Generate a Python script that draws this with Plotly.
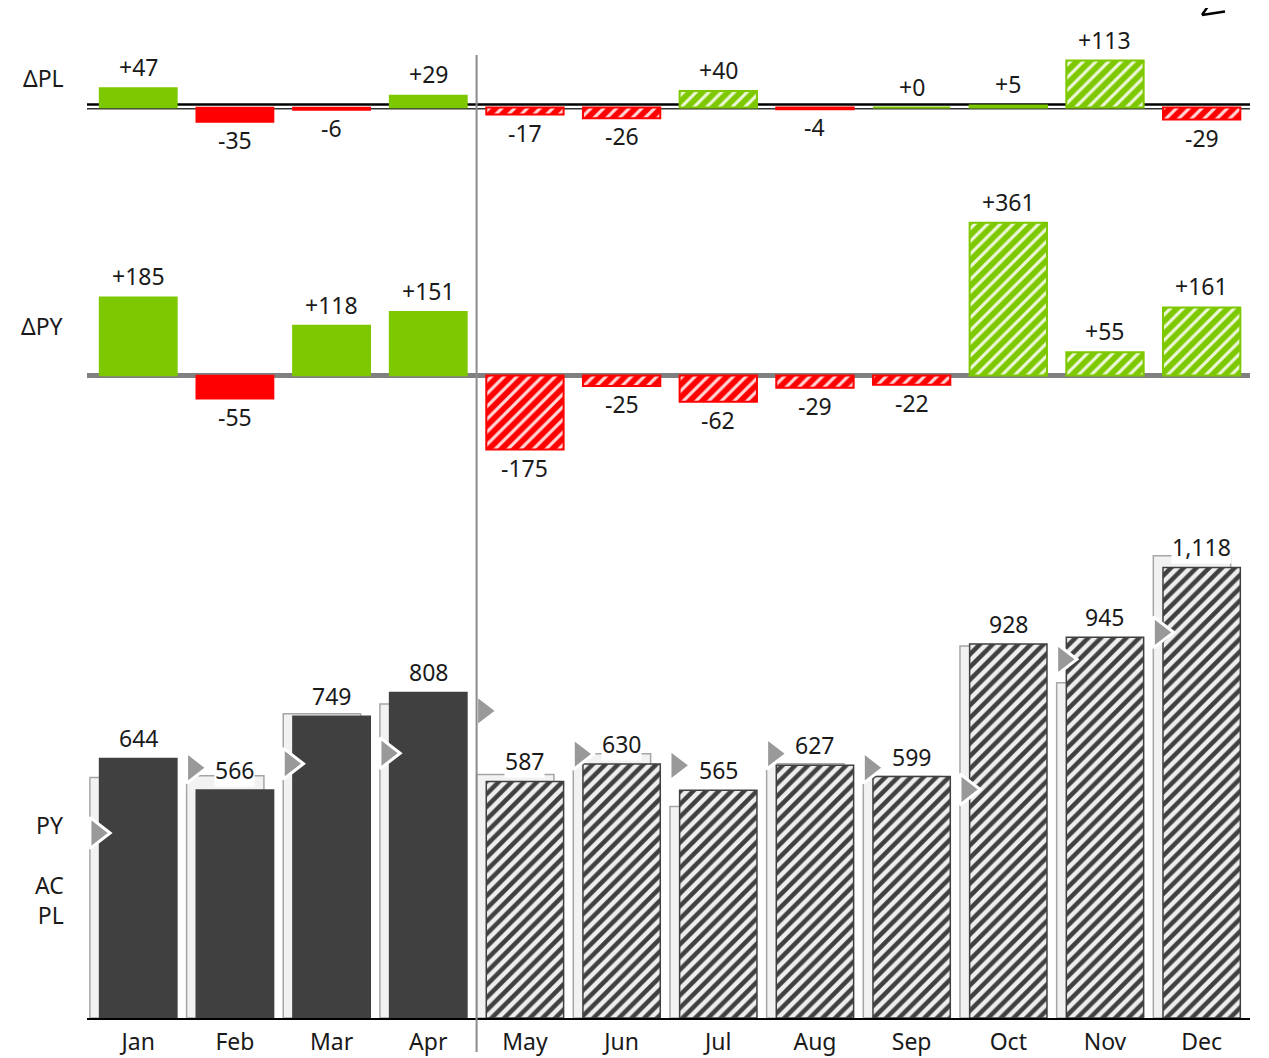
import plotly.graph_objects as go

# 月次データ（Jan-Apr 実績 / May-Dec 見込み）
months = ["Jan", "Feb", "Mar", "Apr", "May", "Jun", "Jul", "Aug", "Sep", "Oct", "Nov", "Dec"]
ac = [644, 566, 749, 808, 587, 630, 565, 627, 599, 928, 945, 1118]
pl = [597, 601, 755, 779, 604, 656, 525, 631, 599, 923, 832, 1147]
py = [459, 621, 631, 657, 762, 655, 627, 656, 621, 567, 890, 957]
d_pl = [47, -35, -6, 29, -17, -26, 40, -4, 0, 5, 113, -29]
d_py = [185, -55, 118, 151, -175, -25, -62, -29, -22, 361, 55, 161]
n_actual = 4

GREEN = "#7DC800"
RED = "#FF0000"
DARK = "#404040"
HATCH_BG = "#EEEEEE"
FONT = "Noto Sans"
TXT = "#1a1a1a"

# ページ本体の余白(8px)を差し引いた図のサイズ
PAGE = 8
W, H = 1269 - PAGE, 1058 - PAGE
M_L, M_R, M_T, M_B = 87 - PAGE, 19, 0, 40
PLOT_H = H - M_T - M_B
PLOT_W = W - M_L - M_R


def py2paper(p):
    # 画面上のピクセル y → paper 座標
    return (PLOT_H + M_T - (p - PAGE)) / PLOT_H


def px2paper(p):
    return (p - PAGE - M_L) / PLOT_W


def panel(zero_px, scale, top_px, bottom_px):
    # ピクセル位置から domain / range を算出
    domain = [py2paper(bottom_px), py2paper(top_px)]
    rng = [-(bottom_px - zero_px) / scale, (zero_px - top_px) / scale]
    return domain, rng


dom1, rng1 = panel(107.5, 0.415, 14, 165)    # ΔPL
dom2, rng2 = panel(375.5, 0.423, 170, 490)   # ΔPY
dom3, rng3 = panel(1018, 0.403, 519, 1018)   # AC / PL / PY

xs = list(range(len(months)))
is_fc = [i >= n_actual for i in xs]

fig = go.Figure()


def bar(vals, mask, yaxis, color, line_color, hatch=None, offset=-0.4, lw=1.5):
    pattern = dict(shape="")
    if hatch:
        pattern = dict(shape="/", fillmode="replace", size=9,
                       bgcolor=color, fgcolor=hatch[0], solidity=hatch[1])
    fig.add_trace(go.Bar(
        x=xs, y=[v if m else None for v, m in zip(vals, mask)],
        width=0.8, offset=offset, yaxis=yaxis,
        marker=dict(color=color, line=dict(color=line_color, width=lw), pattern=pattern),
        hoverinfo="skip",
    ))


def delta_bars(vals, yaxis):
    white = ("rgba(255,255,255,0.85)", 0.35)
    for fc in (False, True):
        for pos in (True, False):
            col = GREEN if pos else RED
            mask = [f == fc and ((v >= 0) == pos) for v, f in zip(vals, is_fc)]
            bar(vals, mask, yaxis, col, col, white if fc else None, lw=2 if fc else 1.5)


delta_bars(d_pl, "y")
delta_bars(d_py, "y2")

# PL（背面の薄いグレー棒）
bar(pl, [True] * len(xs), "y3", "#F2F2F2", "#A6A6A6", offset=-0.5)

# AC（実績は塗りつぶし、見込みはハッチ）
bar(ac, [not f for f in is_fc], "y3", DARK, DARK)
bar(ac, is_fc, "y3", HATCH_BG, DARK, (DARK, 0.5))

# PY（三角マーカー）
fig.add_trace(go.Scatter(
    x=[i - 0.43 for i in xs], y=py, yaxis="y3", mode="markers",
    marker=dict(symbol="triangle-right", size=27, color="#999999",
                line=dict(color="white", width=3)),
    hoverinfo="skip",
))

annotations = []
font = dict(family=FONT, size=23, color=TXT)

for i, v in enumerate(ac):
    annotations.append(dict(
        x=i, y=v, xref="x", yref="y3", text=f"{v:,}", showarrow=False,
        yanchor="middle", yshift=20, font=font, bgcolor="white", borderpad=0,
    ))

for vals, yref in ((d_pl, "y"), (d_py, "y2")):
    for i, v in enumerate(vals):
        annotations.append(dict(
            x=i, y=v, xref="x", yref=yref, text=f"{v:+d}", showarrow=False,
            yanchor="bottom" if v >= 0 else "top",
            yshift=3 if v >= 0 else 0, font=font,
        ))

# 左側の系列ラベル
for text, ypx in (("ΔPL", 78), ("ΔPY", 326), ("PY", 825), ("AC<br>PL", 900)):
    annotations.append(dict(
        x=px2paper(66), y=py2paper(ypx), xref="paper", yref="paper",
        text=text, showarrow=False, xanchor="right", yanchor="middle",
        align="right", font=font,
    ))

shapes = [
    # ΔPL 二重線
    dict(type="line", xref="paper", yref="paper", x0=0, x1=1,
         y0=py2paper(104.5), y1=py2paper(104.5),
         line=dict(color="black", width=2.5), layer="below"),
    dict(type="line", xref="paper", yref="paper", x0=0, x1=1,
         y0=py2paper(108.7), y1=py2paper(108.7),
         line=dict(color="#333333", width=1.5), layer="below"),
    # ΔPY 基準線
    dict(type="line", xref="paper", yref="y2", x0=0, x1=1, y0=0, y1=0,
         line=dict(color="#808080", width=5), layer="below"),
    # 実績 / 見込み 区切り線
    dict(type="line", xref="x", yref="paper", x0=n_actual - 0.5, x1=n_actual - 0.5,
         y0=py2paper(1052), y1=py2paper(55),
         line=dict(color="#8C8C8C", width=2)),
    # 右上の矢印
    dict(type="line", xref="paper", yref="paper",
         x0=px2paper(1202), y0=py2paper(15), x1=px2paper(1225), y1=py2paper(11.5),
         line=dict(color="black", width=2.5)),
    dict(type="line", xref="paper", yref="paper",
         x0=px2paper(1202), y0=py2paper(15), x1=px2paper(1213), y1=py2paper(-1),
         line=dict(color="black", width=2.5)),
]

hidden = dict(visible=False, showgrid=False, zeroline=False, fixedrange=True)

fig.update_layout(
    width=W, height=H,
    margin=dict(l=M_L, r=M_R, t=M_T, b=M_B),
    paper_bgcolor="white", plot_bgcolor="white",
    barmode="overlay", showlegend=False,
    font=dict(family=FONT, size=23, color=TXT),
    xaxis=dict(
        anchor="y3", range=[-0.53, 11.5], tickvals=xs, ticktext=months,
        showgrid=False, zeroline=False, showline=True, linecolor="black",
        linewidth=2, ticks="", tickfont=dict(family=FONT, size=23, color=TXT),
        ticklabelstandoff=2,
    ),
    yaxis=dict(domain=dom1, range=rng1, **hidden),
    yaxis2=dict(domain=dom2, range=rng2, **hidden),
    yaxis3=dict(domain=dom3, range=rng3, **hidden),
    annotations=annotations,
    shapes=shapes,
)

fig.write_html("out.html")
